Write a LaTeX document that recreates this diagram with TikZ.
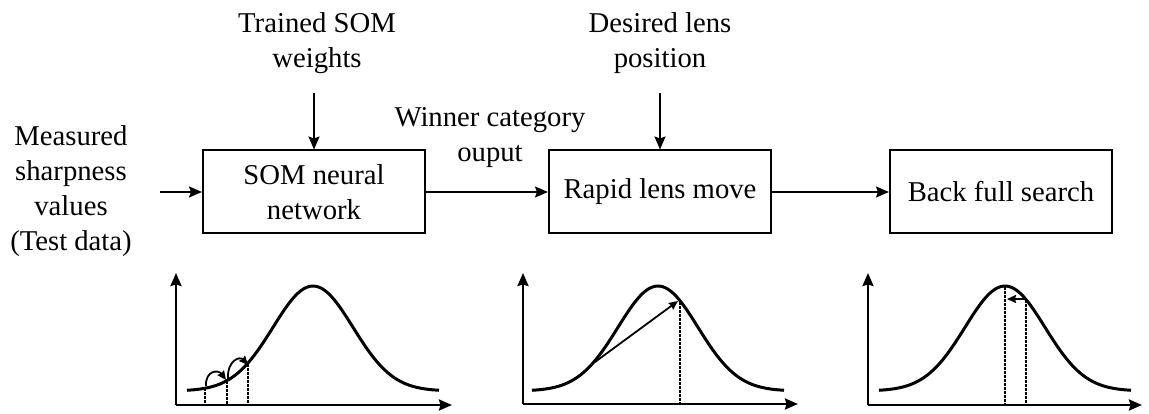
\documentclass[tikz,border=0pt]{standalone}
\usepackage{fontspec}
\setmainfont{Liberation Serif}
\usetikzlibrary{arrows.meta}

\begin{document}
\begin{tikzpicture}[x=1pt,y=-1pt,
  every node/.style={font=\fontsize{28.7}{35}\selectfont, inner sep=0pt},
  label/.style={align=center, anchor=base},
  block/.style={draw, line width=2pt, minimum width=222pt, minimum height=83pt, align=center},
  flow/.style={line width=1.8pt, -{Stealth[length=13pt,width=11pt,inset=2pt]}},
  axis/.style={line width=2.4pt, -{Stealth[length=13pt,width=11pt,inset=1.5pt]}},
  curve/.style={line width=3pt},
  guide/.style={line width=2pt, dash pattern=on 2.5pt off 1.5pt},
  jump/.style={line width=1.8pt, -{Stealth[length=9pt,width=8pt,inset=1pt]}},
  gauss/.pic={
    \draw[curve] plot[domain=-126:126, samples=90, smooth]
      ({\x}, {-105*exp(-0.5*(\x/40)*(\x/40))});
  }
]
\useasboundingbox (0,0) rectangle (1149,414);

% processing chain
\node[block] (som)   at (314,192) {SOM neural\\network};
\node[block] (rapid) at (660,192) {Rapid lens move};
\node[block] (back)  at (1001,192) {Back full search};

% labels (anchored at the baseline of their last line)
\node[label] (meas)    at (71,251)  {Measured\\sharpness\\values\\(Test data)};
\node[label] (trained) at (317,68)  {Trained SOM\\weights};
\node[label] (desired) at (660,68)  {Desired lens\\position};
\node[label] (winner)  at (490,162) {Winner category\\ouput};

% connector end points
\coordinate (in)  at (160,192);
\coordinate (wt)  at (314,93);
\coordinate (pos) at (660,93);

\draw[flow] (in) -- (som.west);
\draw[flow] (wt) -- (som.north);
\draw[flow] (pos) -- (rapid.north);
\draw[flow] (som.east) -- (rapid.west);
\draw[flow] (rapid.east) -- (back.west);

% sharpness curve 1: stepwise hill climbing
\draw[axis] (176,405) -- (176,273);
\draw[axis] (176,405) -- (452,405);
\pic at (313,391) {gauss};
\draw[guide] (205,388) -- (205,405);
\draw[guide] (227,381) -- (227,405);
\draw[guide] (248,364) -- (248,405);
\draw[jump] (206,386) .. controls (205,371) and (218,369) .. (226,380);
\draw[jump] (228,379) .. controls (227,360) and (240,356) .. (248,365);

% sharpness curve 2: rapid move
\draw[axis] (523,404) -- (523,273);
\draw[axis] (523,404) -- (798,404);
\pic at (658,391) {gauss};
\draw[guide] (680,302) -- (680,404);
\draw[jump] (595,362) -- (678,301);

% sharpness curve 3: back search to the peak
\draw[axis] (868,405) -- (868,273);
\draw[axis] (868,405) -- (1142,405);
\pic at (1005,391) {gauss};
\draw[guide] (1005,287) -- (1005,405);
\draw[guide] (1026,300) -- (1026,405);
\draw[jump] (1026,299) -- (1007,299);
\end{tikzpicture}
\end{document}
